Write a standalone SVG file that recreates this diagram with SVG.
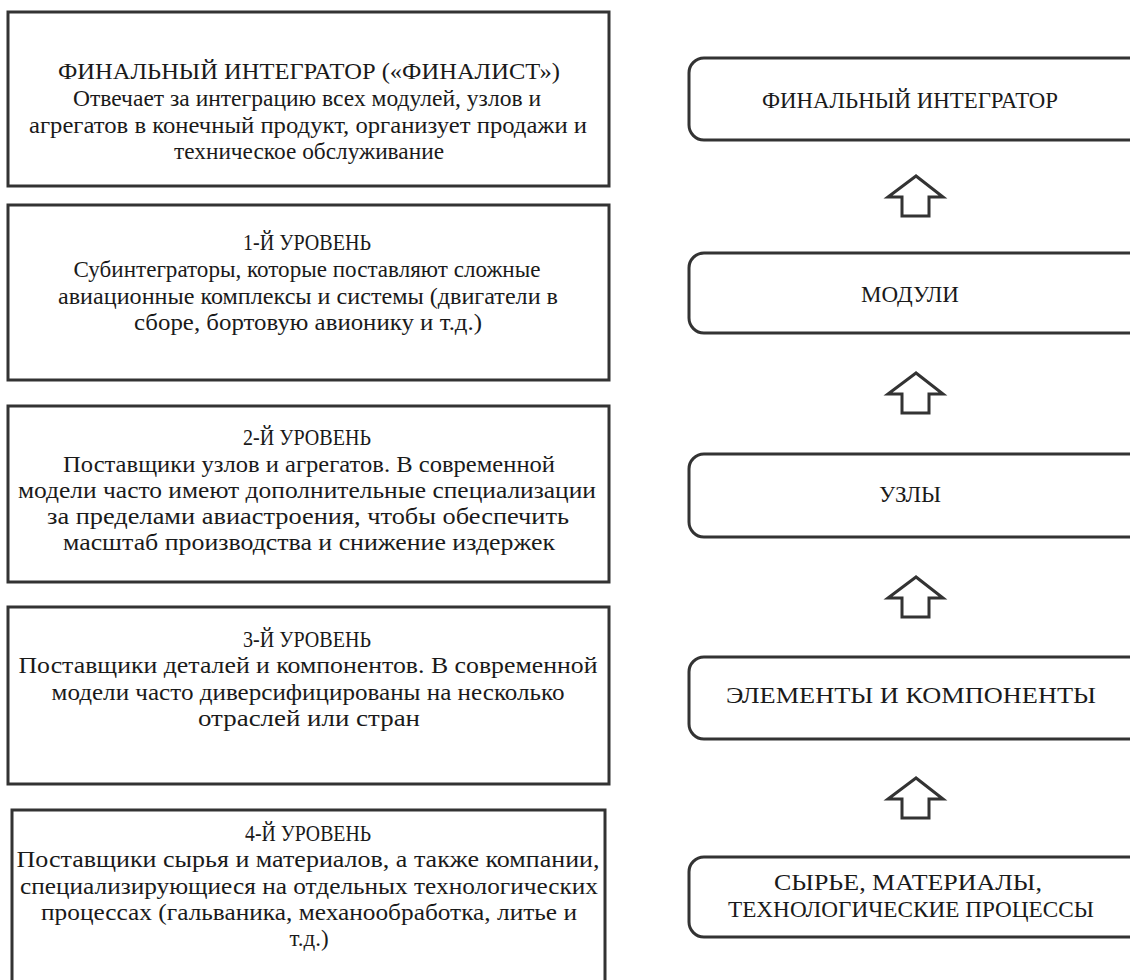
<svg xmlns="http://www.w3.org/2000/svg" width="1130" height="980" viewBox="0 0 1130 980">
<style>
.box{fill:#fff;stroke:#333;stroke-width:3}
.rbox{fill:#fff;stroke:#333;stroke-width:3}
.arr{fill:#fff;stroke:#333;stroke-width:3;stroke-linejoin:miter}
.t{font-size:23px;fill:#1a1a1a;text-anchor:middle}
</style>
<rect width="1130" height="980" fill="#fff"/>
<g font-family="Liberation Serif, Times New Roman, serif">
<g id="level0">
<rect class="box" x="8" y="12" width="601" height="174"/>
<text class="t" x="309" y="79" textLength="502" lengthAdjust="spacingAndGlyphs">ФИНАЛЬНЫЙ ИНТЕГРАТОР («ФИНАЛИСТ»)</text>
<text class="t" x="307" y="106" textLength="468" lengthAdjust="spacingAndGlyphs">Отвечает за интеграцию всех модулей, узлов и</text>
<text class="t" x="308" y="133" textLength="558" lengthAdjust="spacingAndGlyphs">агрегатов в конечный продукт, организует продажи и</text>
<text class="t" x="309" y="159" textLength="270" lengthAdjust="spacingAndGlyphs">техническое обслуживание</text>
</g>
<g id="level1">
<rect class="box" x="8" y="205" width="601" height="175"/>
<text class="t" x="307" y="250" textLength="128" lengthAdjust="spacingAndGlyphs">1-Й УРОВЕНЬ</text>
<text class="t" x="307" y="277" textLength="467" lengthAdjust="spacingAndGlyphs">Субинтеграторы, которые поставляют сложные</text>
<text class="t" x="308" y="304" textLength="500" lengthAdjust="spacingAndGlyphs">авиационные комплексы и системы (двигатели в</text>
<text class="t" x="308" y="330" textLength="348" lengthAdjust="spacingAndGlyphs">сборе, бортовую авионику и т.д.)</text>
</g>
<g id="level2">
<rect class="box" x="8" y="406" width="601" height="176"/>
<text class="t" x="307" y="445" textLength="128" lengthAdjust="spacingAndGlyphs">2-Й УРОВЕНЬ</text>
<text class="t" x="309" y="472" textLength="492" lengthAdjust="spacingAndGlyphs">Поставщики узлов и агрегатов. В современной</text>
<text class="t" x="307" y="498" textLength="578" lengthAdjust="spacingAndGlyphs">модели часто имеют дополнительные специализации</text>
<text class="t" x="308" y="524" textLength="522" lengthAdjust="spacingAndGlyphs">за пределами авиастроения, чтобы обеспечить</text>
<text class="t" x="309" y="550" textLength="492" lengthAdjust="spacingAndGlyphs">масштаб производства и снижение издержек</text>
</g>
<g id="level3">
<rect class="box" x="8" y="607" width="601" height="177"/>
<text class="t" x="307" y="647" textLength="128" lengthAdjust="spacingAndGlyphs">3-Й УРОВЕНЬ</text>
<text class="t" x="308" y="673" textLength="579" lengthAdjust="spacingAndGlyphs">Поставщики деталей и компонентов. В современной</text>
<text class="t" x="308" y="700" textLength="513" lengthAdjust="spacingAndGlyphs">модели часто диверсифицированы на несколько</text>
<text class="t" x="309" y="726" textLength="222" lengthAdjust="spacingAndGlyphs">отраслей или стран</text>
</g>
<g id="level4">
<rect class="box" x="12" y="810" width="593" height="200"/>
<text class="t" x="308" y="841" textLength="126" lengthAdjust="spacingAndGlyphs">4-Й УРОВЕНЬ</text>
<text class="t" x="308" y="867" textLength="583" lengthAdjust="spacingAndGlyphs">Поставщики сырья и материалов, а также компании,</text>
<text class="t" x="309" y="894" textLength="578" lengthAdjust="spacingAndGlyphs">специализирующиеся на отдельных технологических</text>
<text class="t" x="309" y="920" textLength="536" lengthAdjust="spacingAndGlyphs">процессах (гальваника, механообработка, литье и</text>
<text class="t" x="309" y="946">т.д.)</text>
</g>
<g id="r-final">
<rect class="rbox" x="689" y="58" width="460" height="82" rx="15" ry="15"/>
<text class="t" x="910" y="108" textLength="296" lengthAdjust="spacingAndGlyphs">ФИНАЛЬНЫЙ ИНТЕГРАТОР</text>
</g>
<g id="r-modules">
<rect class="rbox" x="689" y="253" width="460" height="80" rx="15" ry="15"/>
<text class="t" x="910" y="302">МОДУЛИ</text>
</g>
<g id="r-units">
<rect class="rbox" x="689" y="454" width="460" height="83" rx="15" ry="15"/>
<text class="t" x="910" y="502">УЗЛЫ</text>
</g>
<g id="r-elements">
<rect class="rbox" x="689" y="657" width="460" height="82" rx="15" ry="15"/>
<text class="t" x="911" y="703" textLength="370" lengthAdjust="spacingAndGlyphs">ЭЛЕМЕНТЫ И КОМПОНЕНТЫ</text>
</g>
<g id="r-raw">
<rect class="rbox" x="689" y="857" width="460" height="80" rx="15" ry="15"/>
<text class="t" x="908" y="890" textLength="268" lengthAdjust="spacingAndGlyphs">СЫРЬЕ, МАТЕРИАЛЫ,</text>
<text class="t" x="911" y="917" textLength="366" lengthAdjust="spacingAndGlyphs">ТЕХНОЛОГИЧЕСКИЕ ПРОЦЕССЫ</text>
</g>
</g>
<g id="connectors">
<path class="arr" d="M916,176 L888,197 L902,197 L902,216 L929,216 L929,197 L943,197 Z"/>
<path class="arr" d="M916,373 L888,394 L902,394 L902,413 L929,413 L929,394 L943,394 Z"/>
<path class="arr" d="M916,577 L888,598 L902,598 L902,617 L929,617 L929,598 L943,598 Z"/>
<path class="arr" d="M916,778 L888,799 L902,799 L902,818 L929,818 L929,799 L943,799 Z"/>
</g>
</svg>
